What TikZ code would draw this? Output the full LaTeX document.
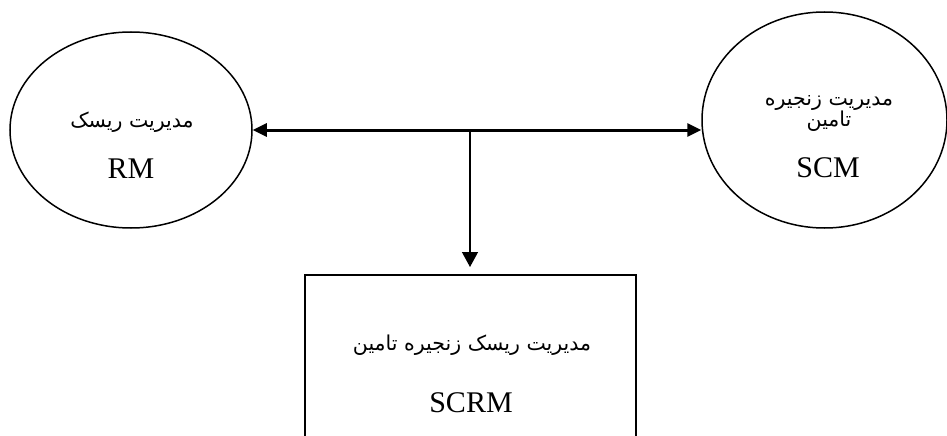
\documentclass[tikz,border=0pt]{standalone}
\usepackage{fontspec}
\setmainfont{Liberation Serif}
\newfontfamily\fa[Script=Arabic]{DejaVu Sans}
\TeXXeTstate=1
\usetikzlibrary{shapes.geometric,arrows.meta}
\tikzset{
  oval/.style={draw,ellipse,line width=1.5pt,inner sep=0pt},
  boxshape/.style={draw,rectangle,line width=2pt,inner sep=0pt},
  fatext/.style={font=\fa\fontsize{20.5}{21}\selectfont,inner sep=0pt,anchor=base},
  latext/.style={font=\fontsize{30}{32}\selectfont,inner sep=0pt,anchor=base},
  bigarrow/.style={line width=3pt,{Triangle[length=14pt,width=13pt]}-{Triangle[length=14pt,width=13pt]}},
  thinarrow/.style={line width=1.3pt,-{Triangle[length=15pt,width=16pt]}}
}
\begin{document}
\begin{tikzpicture}[x=1pt,y=-1pt]
  \useasboundingbox (0,0) rectangle (947,436);
  \clip (0,0) rectangle (947,436);
  \node[oval,minimum width=242pt,minimum height=196pt] (rm) at (131,130) {};
  \node[oval,minimum width=245pt,minimum height=216pt] (scm) at (824.5,120) {};
  \node[boxshape,minimum width=331pt,minimum height=180pt] (scrm) at (470.5,365) {};
  \node[fatext] (rmfa) at (132,127) {\beginR مدیریت ریسک\endR};
  \node[latext] (rmla) at (131,178) {RM};
  \node[fatext] (scmfa1) at (829,105) {\beginR مدیریت زنجیره\endR};
  \node[fatext] (scmfa2) at (829,126) {\beginR تامین\endR};
  \node[latext] (scmla) at (828,177) {SCM};
  \node[fatext] (scrmfa) at (472,350) {\beginR مدیریت ریسک زنجیره تامین\endR};
  \node[latext] (scrmla) at (471,412) {SCRM};
  \draw[bigarrow] (rm.east) -- (rm.east -| scm.west);
  \coordinate (junc) at (470,130);
  \draw[thinarrow,shorten >=7pt] (junc) -- (junc |- scrm.north);
\end{tikzpicture}
\end{document}
